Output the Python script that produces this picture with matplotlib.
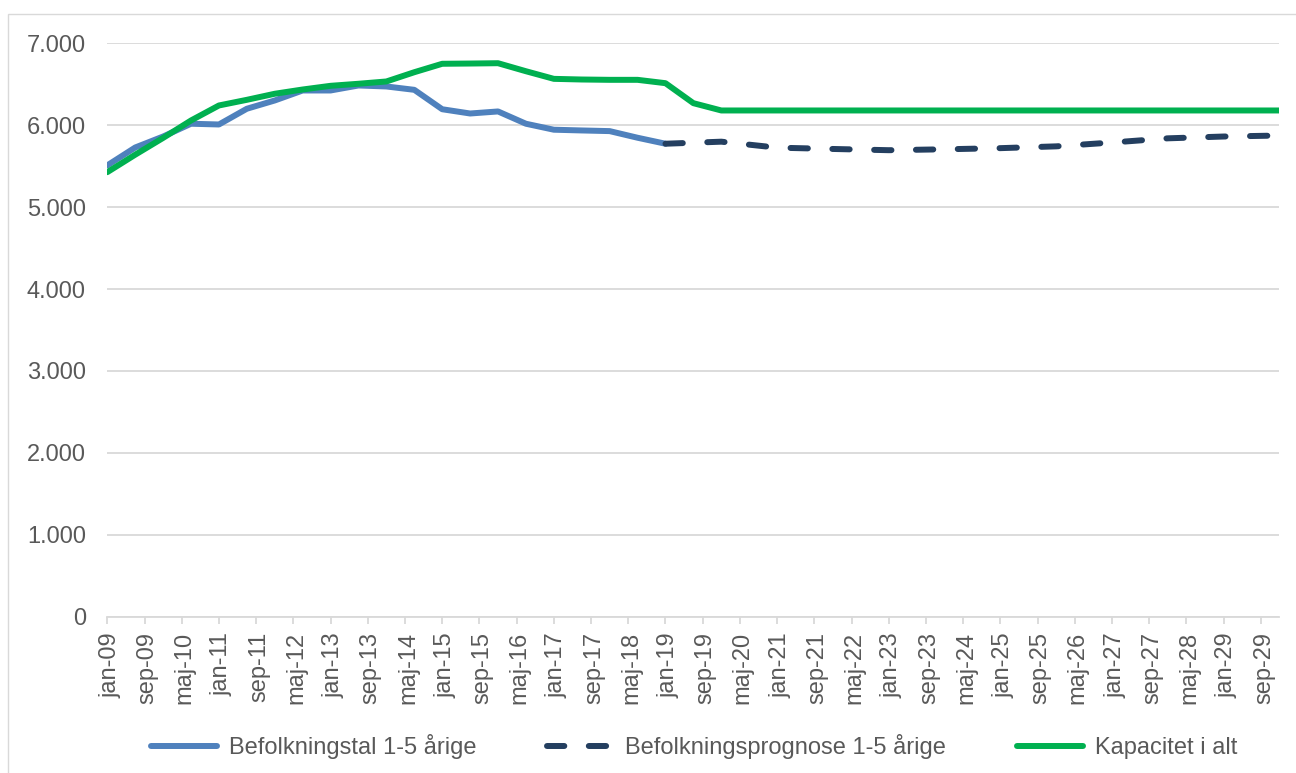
import matplotlib
matplotlib.use("Agg")
import matplotlib.pyplot as plt
import matplotlib.patches as mpatches
import matplotlib.transforms as mtransforms
from matplotlib.ticker import FixedLocator, FuncFormatter

plt.rcParams['font.family'] = ['Liberation Sans', 'DejaVu Sans']

# ---- data -------------------------------------------------------------
blue_dates = ["2009-01", "2009-07", "2010-01", "2010-07", "2011-01", "2011-07",
              "2012-01", "2012-07", "2013-01", "2013-07", "2014-01", "2014-07",
              "2015-01", "2015-07", "2016-01", "2016-07", "2017-01", "2017-07",
              "2018-01", "2018-07", "2019-01"]
blue_values = [5510, 5728, 5862, 6018, 6009, 6201,
               6302, 6424, 6424, 6485, 6473, 6432,
               6195, 6143, 6168, 6018, 5945, 5936,
               5928, 5847, 5774]

prog_dates = ["2019-01", "2020-01", "2021-01", "2022-01", "2023-01", "2024-01",
              "2025-01", "2026-01", "2027-01", "2028-01", "2029-01", "2030-01"]
prog_values = [5774, 5799, 5726, 5710, 5695, 5706,
               5720, 5742, 5789, 5840, 5862, 5874]

green_dates = ["2009-01", "2009-07", "2010-01", "2010-07", "2011-01", "2011-07",
               "2012-01", "2012-07", "2013-01", "2013-07", "2014-01", "2014-07",
               "2015-01", "2015-07", "2016-01", "2016-07", "2017-01", "2017-07",
               "2018-01", "2018-07", "2019-01", "2019-07", "2020-01", "2021-01",
               "2022-01", "2023-01", "2024-01", "2025-01", "2026-01", "2027-01",
               "2028-01", "2029-01", "2030-01"]
green_values = [5427, 5640, 5845, 6058, 6241, 6310,
                6384, 6436, 6481, 6506, 6534, 6647,
                6750, 6753, 6757, 6659, 6566, 6558,
                6554, 6554, 6513, 6269, 6180, 6180,
                6180, 6180, 6180, 6180, 6180, 6180,
                6180, 6180, 6180]

series_names = ["Befolkningstal 1-5 årige", "Befolkningsprognose 1-5 årige",
                "Kapacitet i alt"]
month_names = ["jan", "feb", "mar", "apr", "maj", "jun",
               "jul", "aug", "sep", "okt", "nov", "dec"]
y_ticks = [0, 1000, 2000, 3000, 4000, 5000, 6000, 7000]

START_YEAR = 2009


def month_index(s):
    y, m = s.split("-")
    return (int(y) - START_YEAR) * 12 + int(m) - 1


def to_x(dates):
    return [month_index(d) for d in dates]


# ---- figure -----------------------------------------------------------
W, H = 1296, 773
fig = plt.figure(figsize=(W / 100, H / 100), dpi=100)
fig.patch.set_facecolor("white")

# outer chart frame
frame = mpatches.Rectangle((8.3 / W, -0.05), 1.1, 1 - 14 / H + 0.05,
                           transform=fig.transFigure, fill=False,
                           edgecolor="#D9D9D9", linewidth=1.0)
fig.patches.append(frame)

left, right = 107.3 / W, 1279.5 / W
bottom, top = 1 - 616.7 / H, 1 - 43.3 / H
ax = fig.add_axes([left, bottom, right - left, top - bottom])

lw = 4.3
ax.plot(to_x(blue_dates), blue_values, color="#4F81BD", lw=lw,
        solid_capstyle="round", solid_joinstyle="round",
        label=series_names[0], zorder=3)
ax.plot(to_x(prog_dates), prog_values, color="#243F60", lw=lw,
        linestyle=(0, (2.9, 4.1)), dash_capstyle="round",
        label=series_names[1], zorder=3)
ax.plot(to_x(green_dates), green_values, color="#00B050", lw=lw,
        solid_capstyle="round", solid_joinstyle="round",
        label=series_names[2], zorder=4)

ax.set_ylim(0, 7000)
last_x = month_index(green_dates[-1])
ax.set_xlim(0, last_x)

ax.yaxis.set_major_locator(FixedLocator(y_ticks))
ax.yaxis.set_major_formatter(FuncFormatter(lambda v, p: f"{int(v):,}".replace(",", ".")))

xt = list(range(0, last_x, 8))
ax.xaxis.set_major_locator(FixedLocator(xt))


def fmt_x(v, p):
    v = int(round(v))
    y = START_YEAR + v // 12
    m = v % 12
    return f"{month_names[m]}-{y % 100:02d}"


ax.xaxis.set_major_formatter(FuncFormatter(fmt_x))

ax.grid(axis="y", color="#D9D9D9", linewidth=1.3)
ax.set_axisbelow(True)
for s in ["top", "right", "left"]:
    ax.spines[s].set_visible(False)
ax.spines["bottom"].set_color("#D9D9D9")
ax.spines["bottom"].set_linewidth(1.3)
ax.spines["bottom"].set_zorder(1)

ax.tick_params(axis="y", length=0, pad=15.5, labelsize=17, labelcolor="#595959")
ax.tick_params(axis="x", length=5, width=1.3, color="#D9D9D9", direction="out",
               pad=6, labelsize=17, labelcolor="#595959", labelrotation=90)

offset = mtransforms.ScaledTranslation(3 / 100, 0, fig.dpi_scale_trans)
for lab in ax.get_xticklabels():
    lab.set_transform(lab.get_transform() + offset)
    lab.set_ha("center")
    lab.set_va("top")

handles, labels = ax.get_legend_handles_labels()
leg = fig.legend(handles, labels, loc="center", ncol=3,
                 bbox_to_anchor=(694 / W, 1 - 746.7 / H),
                 frameon=False, fontsize=17, handlelength=2.8,
                 handletextpad=0.5, columnspacing=3.0, borderpad=0)
for t in leg.get_texts():
    t.set_color("#595959")

fig.savefig("out.png", dpi=100, facecolor="white")
